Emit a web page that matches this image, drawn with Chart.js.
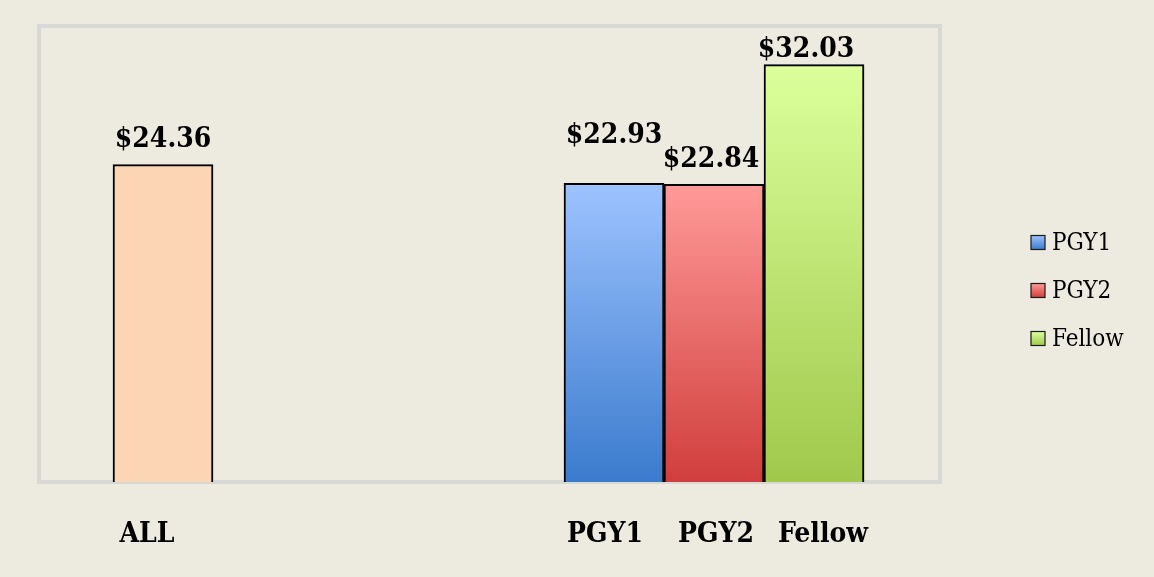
<!DOCTYPE html>
<html>
<head>
<meta charset="utf-8">
<script src="https://cdn.jsdelivr.net/npm/chart.js@4.4.1/dist/chart.umd.min.js"></script>
<style>
  html, body { margin: 0; padding: 0; background: #edebe0; }
  #wrap { width: 1154px; height: 577px; position: relative; }
</style>
</head>
<body>
<div id="wrap"><canvas id="c" width="1154" height="577"></canvas></div>
<script>
// ---- data ----
const categories = ['ALL', 'PGY1', 'PGY2', 'Fellow'];
const values = [24.36, 22.93, 22.84, 32.03];
const valueLabels = ['$24.36', '$22.93', '$22.84', '$32.03'];
const legendSeries = ['PGY1', 'PGY2', 'Fellow'];

// ---- layout / style (not data) ----
const slots = [1.24, 5.75, 6.75, 7.75];       // bar centres along x, in bar-width units
const labelSlots = [1.08, 5.66, 6.77, 7.84];  // category label centres along x
const xMax = 9.01;
const yMax = 35;
const labelNudge = [[0, 18], [0, 40], [-3, 17], [-8, 8]]; // [dx, lift] for value labels
const gradTop = ['#fcd5b4', '#9dc3ff', '#ff9a98', '#dcff9c'];
const gradBot = ['#fcd5b4', '#3b7bcd', '#d03e3c', '#9fc94b'];
const legendTop = { PGY1: '#9dc3ff', PGY2: '#ff9a98', Fellow: '#dcff9c' };
const legendBot = { PGY1: '#3b7bcd', PGY2: '#d03e3c', Fellow: '#9fc94b' };
const FONT = '"DejaVu Serif Condensed", "DejaVu Serif", serif';

function barGradient(ctx) {
  const chart = ctx.chart;
  const i = ctx.dataIndex;
  const area = chart.chartArea;
  if (!area || i === undefined) return gradTop[0];
  const yTop = chart.scales.y.getPixelForValue(values[i]);
  const g = chart.ctx.createLinearGradient(0, yTop, 0, area.bottom);
  g.addColorStop(0, gradTop[i]);
  g.addColorStop(1, gradBot[i]);
  return g;
}

const framePlugin = {
  id: 'frame',
  beforeDatasetsDraw(chart) {
    const { ctx, chartArea: a } = chart;
    ctx.save();
    ctx.strokeStyle = '#d8d8d6';
    ctx.lineWidth = 4;
    ctx.strokeRect(a.left, a.top, a.right - a.left, a.bottom - a.top);
    ctx.restore();
    ctx.save();
    ctx.shadowColor = 'rgba(0,0,0,0.13)';
    ctx.shadowOffsetX = 4;
    ctx.shadowOffsetY = 1;
    ctx.shadowBlur = 3;
  },
  afterDatasetsDraw(chart) {
    const { ctx } = chart;
    ctx.restore();
    // value labels
    const meta = chart.getDatasetMeta(0);
    ctx.save();
    ctx.font = 'bold 28px ' + FONT;
    ctx.fillStyle = '#000';
    ctx.textAlign = 'center';
    ctx.textBaseline = 'alphabetic';
    meta.data.forEach((bar, i) => {
      ctx.fillText(valueLabels[i], bar.x + labelNudge[i][0], bar.y - labelNudge[i][1]);
    });
    ctx.restore();
  },
  afterDraw(chart) {
    // legend
    const { ctx, chartArea: a } = chart;
    ctx.save();
    ctx.font = '24px ' + FONT;
    ctx.textBaseline = 'middle';
    ctx.textAlign = 'left';
    const bx = a.right + 91;
    const rowGap = 48;
    const cy = chart.height / 2 + 2;
    legendSeries.forEach((name, k) => {
      const y = cy + (k - 1) * rowGap;
      const g = ctx.createLinearGradient(0, y - 7, 0, y + 7);
      g.addColorStop(0, legendTop[name]);
      g.addColorStop(1, legendBot[name]);
      ctx.fillStyle = g;
      ctx.fillRect(bx, y - 7, 14, 14);
      ctx.strokeStyle = '#1a1a1a';
      ctx.lineWidth = 1.2;
      ctx.strokeRect(bx, y - 7, 14, 14);
      ctx.fillStyle = '#000';
      ctx.fillText(name, bx + 21, y + 1);
    });
    ctx.restore();
  }
};

new Chart(document.getElementById('c'), {
  type: 'bar',
  data: {
    datasets: [{
      label: 'Cost',
      data: categories.map((c, i) => ({ x: slots[i], y: values[i] })),
      backgroundColor: barGradient,
      borderColor: '#000',
      borderWidth: 2,
      categoryPercentage: 1,
      barPercentage: 1
    }]
  },
  options: {
    responsive: false,
    animation: false,
    devicePixelRatio: 1,
    layout: { padding: { left: 39, top: 26, right: 214, bottom: 25 } },
    plugins: { legend: { display: false }, tooltip: { enabled: false } },
    scales: {
      x: {
        type: 'linear',
        min: 0,
        max: xMax,
        offset: false,
        grid: { display: false, drawTicks: false },
        border: { display: false },
        afterBuildTicks(scale) { scale.ticks = labelSlots.map(v => ({ value: v })); },
        afterFit(scale) { scale.height = 70; },
        ticks: {
          autoSkip: false,
          maxRotation: 0,
          padding: 36,
          color: '#000',
          font: { family: FONT, size: 28, weight: 'bold' },
          callback: (v, i) => categories[i]
        }
      },
      y: {
        display: false,
        min: 0,
        max: yMax
      }
    }
  },
  plugins: [framePlugin]
});
</script>
</body>
</html>
